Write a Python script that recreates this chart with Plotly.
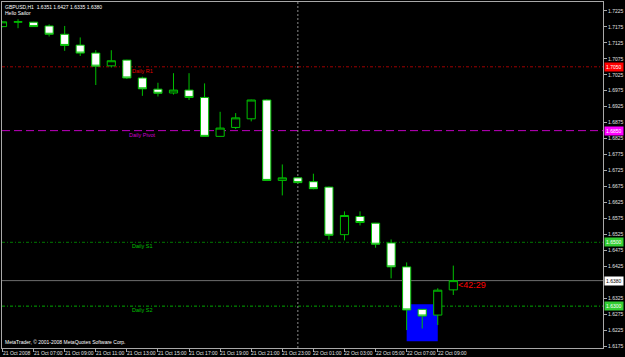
import plotly.graph_objects as go

# ---------------- data ----------------
times = ["21 Oct 05:00", "21 Oct 06:00", "21 Oct 07:00", "21 Oct 08:00", "21 Oct 09:00",
         "21 Oct 10:00", "21 Oct 11:00", "21 Oct 12:00", "21 Oct 13:00", "21 Oct 14:00",
         "21 Oct 15:00", "21 Oct 16:00", "21 Oct 17:00", "21 Oct 18:00", "21 Oct 19:00",
         "21 Oct 20:00", "21 Oct 21:00", "21 Oct 22:00", "21 Oct 23:00", "22 Oct 00:00",
         "22 Oct 01:00", "22 Oct 02:00", "22 Oct 03:00", "22 Oct 04:00", "22 Oct 05:00",
         "22 Oct 06:00", "22 Oct 07:00", "22 Oct 08:00", "22 Oct 09:00", "22 Oct 10:00"]
opens = [1.7176, 1.7190, 1.7190, 1.7178, 1.7152, 1.7118, 1.7093, 1.7053, 1.7071, 1.7015,
         1.6980, 1.6968, 1.6977, 1.6954, 1.6832, 1.6860, 1.6887, 1.6946, 1.6694, 1.6702,
         1.6690, 1.6673, 1.6524, 1.6581, 1.6560, 1.6498, 1.6423, 1.6290, 1.6272, 1.6351]
highs = [1.7192, 1.7199, 1.7191, 1.7183, 1.7178, 1.7142, 1.7102, 1.7102, 1.7072, 1.7019,
         1.7000, 1.7030, 1.7030, 1.6998, 1.6909, 1.6905, 1.6947, 1.6948, 1.6744, 1.6704,
         1.6715, 1.6675, 1.6597, 1.6597, 1.6561, 1.6509, 1.6437, 1.6291, 1.6356, 1.6427]
lows = [1.7174, 1.7171, 1.7175, 1.7145, 1.7100, 1.7084, 1.6993, 1.7048, 1.7012, 1.6959,
        1.6957, 1.6963, 1.6946, 1.6832, 1.6831, 1.6855, 1.6879, 1.6692, 1.6647, 1.6685,
        1.6666, 1.6508, 1.6506, 1.6553, 1.6483, 1.6387, 1.6225, 1.6230, 1.6241, 1.6335]
closes = [1.7191, 1.7191, 1.7176, 1.7152, 1.7117, 1.7093, 1.7052, 1.7069, 1.7015, 1.6981,
          1.6967, 1.6977, 1.6954, 1.6832, 1.6858, 1.6890, 1.6946, 1.6694, 1.6702, 1.6687,
          1.6668, 1.6522, 1.6584, 1.6562, 1.6494, 1.6423, 1.6288, 1.6269, 1.6350, 1.6380]

xtick_times = ["21 Oct 05:00", "21 Oct 07:00", "21 Oct 09:00", "21 Oct 11:00", "21 Oct 13:00",
               "21 Oct 15:00", "21 Oct 17:00", "21 Oct 19:00", "21 Oct 21:00", "21 Oct 23:00",
               "22 Oct 01:00", "22 Oct 03:00", "22 Oct 05:00", "22 Oct 07:00", "22 Oct 09:00"]
xtick_labels = ["21 Oct 2008", "21 Oct 07:00", "21 Oct 09:00", "21 Oct 11:00", "21 Oct 13:00",
                "21 Oct 15:00", "21 Oct 17:00", "21 Oct 19:00", "21 Oct 21:00", "21 Oct 23:00",
                "22 Oct 01:00", "22 Oct 03:00", "22 Oct 05:00", "22 Oct 07:00", "22 Oct 09:00"]
# 1.6375 is hidden behind the bid price box in the reference
ytick_values = [1.6175, 1.6225, 1.6275, 1.6325, 1.6425, 1.6475, 1.6525, 1.6575, 1.6625,
                1.6675, 1.6725, 1.6775, 1.6825, 1.6875, 1.6925, 1.6975, 1.7025, 1.7075, 1.7125,
                1.7175, 1.7225]

level_names = ["Daily R1", "Daily Pivot", "Daily S1", "Daily S2"]
level_values = [1.7050, 1.6850, 1.6500, 1.6300]
level_label_time = "21 Oct 14:00"
bid_price = 1.6380
rect_times = ["22 Oct 07:00", "22 Oct 09:00"]
rect_prices = [1.6306, 1.6190]
separator_time = "22 Oct 00:00"
timer_text = "<42:29"
header_line1 = "GBPUSD,H1  1.6351 1.6427 1.6335 1.6380"
header_line2 = "Hello Sailor"
footer_text = "MetaTrader, © 2001-2008 MetaQuotes Software Corp."

# ---------------- styles ----------------
GREEN = "#00c000"
BORDER = "#a8a8a8"
FONT = "Liberation Sans"
level_line_colors = ["#a00000", "#c000c0", "#007800", "#00a800"]
level_text_colors = ["#e00000", "#d000d0", "#00c000", "#00c000"]
level_box_colors = ["#ff0000", "#ff00ff", "#32cd32", "#32cd32"]
level_dashes = ["3px,2px,1px,2px", "8px,4px", "3px,2px,1px,2px", "3px,2px,1px,2px"]

fig = go.Figure()
fig.add_trace(go.Candlestick(
    x=times, open=opens, high=highs, low=lows, close=closes,
    increasing=dict(line=dict(color=GREEN, width=1), fillcolor="#000000"),
    decreasing=dict(line=dict(color=GREEN, width=1), fillcolor="#ffffff"),
    whiskerwidth=0, showlegend=False, hoverinfo="skip"))

shapes = []
shapes.append(dict(type="rect", xref="x", yref="y", layer="below",
                   x0=times.index(rect_times[0]), x1=times.index(rect_times[1]),
                   y0=rect_prices[0], y1=rect_prices[1],
                   fillcolor="#0000ff", line=dict(width=0)))
for v, c, d in zip(level_values, level_line_colors, level_dashes):
    shapes.append(dict(type="line", xref="paper", yref="y", x0=0, x1=1, y0=v, y1=v,
                       layer="below", line=dict(color=c, width=1, dash=d)))
shapes.append(dict(type="line", xref="paper", yref="y", x0=0, x1=1, y0=bid_price, y1=bid_price,
                   layer="below", line=dict(color="#6e6e6e", width=1)))
sx = times.index(separator_time)
shapes.append(dict(type="line", xref="x", yref="paper", x0=sx, x1=sx, y0=0, y1=1,
                   layer="below", line=dict(color="#8c8c8c", width=1, dash="2px,2px")))

annotations = []
for name, v, tc in zip(level_names, level_values, level_text_colors):
    annotations.append(dict(x=times.index(level_label_time), y=v, xref="x", yref="y",
                            text=name, showarrow=False, xanchor="center", yanchor="top",
                            font=dict(family=FONT, size=5.5, color=tc), borderpad=0))
for v, bc in zip(level_values, level_box_colors):
    annotations.append(dict(x=1, y=v, xref="paper", yref="y", text=f"{v:.4f}",
                            showarrow=False, xanchor="left", yanchor="middle", xshift=1,
                            bgcolor=bc, borderpad=1,
                            font=dict(family=FONT, size=5, color="#ffffff")))
annotations.append(dict(x=1, y=bid_price, xref="paper", yref="y", text=f"{bid_price:.4f}",
                        showarrow=False, xanchor="left", yanchor="middle", xshift=1,
                        bgcolor="#ffffff", borderpad=1,
                        font=dict(family=FONT, size=5, color="#000000")))
for t, lab in zip(xtick_times, xtick_labels):
    annotations.append(dict(x=times.index(t), y=0, xref="x", yref="paper", text=lab,
                            showarrow=False, xanchor="left", yanchor="top", xshift=-1, yshift=-1,
                            font=dict(family=FONT, size=5, color="#e0e0e0"), borderpad=0))
annotations.append(dict(x=len(times) - 1, y=closes[-1], xref="x", yref="y", text=timer_text,
                        showarrow=False, xanchor="left", yanchor="middle", xshift=4, yshift=-4,
                        font=dict(family=FONT, size=9, color="#ff0000"), borderpad=0))
annotations.append(dict(x=0, y=1, xref="paper", yref="paper", text=header_line1,
                        showarrow=False, xanchor="left", yanchor="top", xshift=2, yshift=-1,
                        font=dict(family=FONT, size=5, color="#ffffff"), borderpad=0))
annotations.append(dict(x=0, y=1, xref="paper", yref="paper", text=header_line2,
                        showarrow=False, xanchor="left", yanchor="top", xshift=2, yshift=-7,
                        font=dict(family=FONT, size=5, color="#ffffff"), borderpad=0))
annotations.append(dict(x=0, y=0, xref="paper", yref="paper", text=footer_text,
                        showarrow=False, xanchor="left", yanchor="middle", xshift=2, yshift=6,
                        font=dict(family=FONT, size=5, color="#ffffff"), borderpad=0))

fig.update_layout(
    width=625, height=357, margin=dict(l=1, r=19, t=1, b=9),
    paper_bgcolor="#000000", plot_bgcolor="#000000", boxgap=0.25, showlegend=False,
    shapes=shapes, annotations=annotations,
    xaxis=dict(type="category", range=[-0.032, 38.63], rangeslider=dict(visible=False),
               showgrid=False, zeroline=False, showline=True, linecolor=BORDER, linewidth=1,
               mirror=True, ticks="outside", ticklen=3, tickcolor=BORDER,
               tickvals=xtick_times, showticklabels=False, fixedrange=True),
    yaxis=dict(side="right", range=[1.61688, 1.72531], showgrid=False, zeroline=False,
               showline=True, linecolor=BORDER, linewidth=1, mirror=True,
               ticks="outside", ticklen=3, tickcolor=BORDER, tickvals=ytick_values,
               tickformat=".4f", tickfont=dict(family=FONT, size=5, color="#e0e0e0"),
               fixedrange=True),
)

fig.write_html("out.html")
